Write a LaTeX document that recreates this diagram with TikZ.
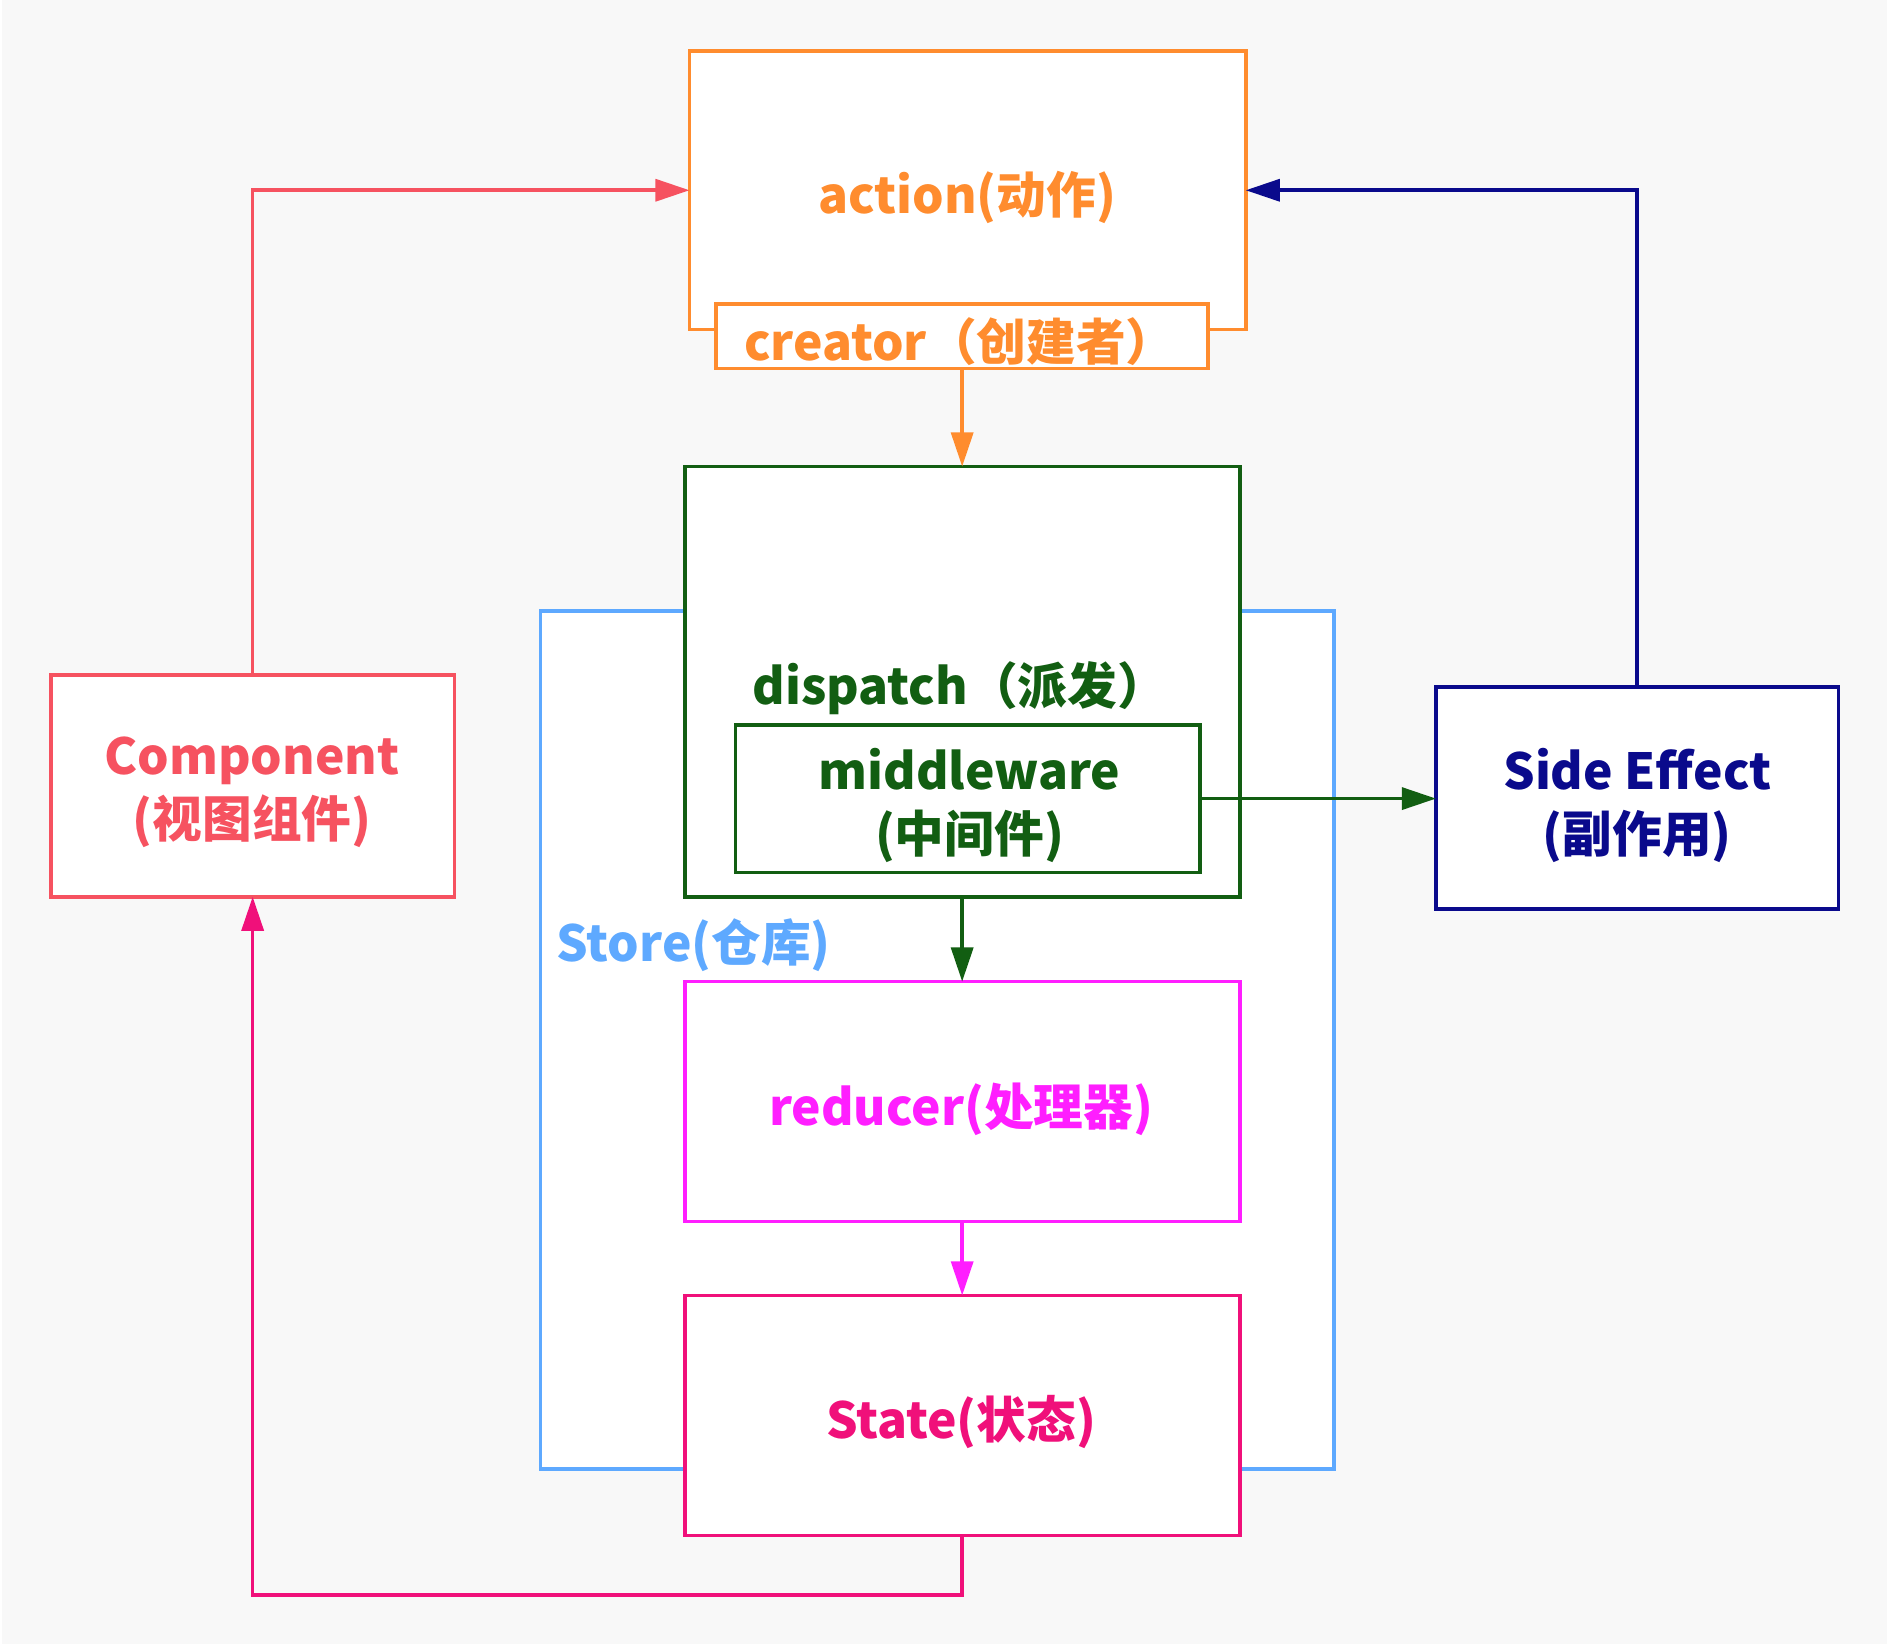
\documentclass[tikz,border=0pt]{standalone}
\usepackage{fontspec}
\setmainfont{Noto Sans CJK SC}
\usetikzlibrary{arrows.meta}
\definecolor{bgc}{HTML}{F8F8F8}
\definecolor{corange}{HTML}{FF8C2E}
\definecolor{cred}{HTML}{F65260}
\definecolor{cnavy}{HTML}{0A0A8C}
\definecolor{cgreen}{HTML}{125E12}
\definecolor{cblue}{HTML}{5EA9FF}
\definecolor{cmag}{HTML}{FF1EFF}
\definecolor{cpink}{HTML}{F0107A}
\tikzset{
  box/.style={draw, fill=white, line width=1.5pt, inner sep=0pt, outer sep=0pt, rectangle},
  lbl/.style={font=\fontsize{20.5}{26}\selectfont\bfseries, align=center, inner sep=0pt},
  conn/.style={line width=1.5pt, -{Triangle[length=14pt, width=9pt]}},
}
\begin{document}
\begin{tikzpicture}[x=0.5pt, y=-0.5pt]
\useasboundingbox (0,0) rectangle (1560,1350);
\fill[white] (0,0) rectangle (1560,1350);
\fill[bgc] (1.5,0) rectangle (1549,1350);

\begin{scope}[scale=0.995, every node/.append style={transform shape}]
% Store
\node[box, draw=cblue, minimum width=327.5pt, minimum height=354pt] (store) at (773.5,858) {};
\node[lbl, text=cblue, anchor=west] (storelbl) at (459,780) {Store(仓库)};

% action + creator
\node[box, draw=corange, minimum width=229.5pt, minimum height=115pt] (action) at (798.5,157) {};
\node[lbl, text=corange] (actionlbl) at (798,163) {action(动作)};
\node[box, draw=corange, minimum width=203pt, minimum height=26.5pt] (creator) at (794,277.5) {};
\node[lbl, text=corange] (creatorlbl) at (792,282) {creator（创建者）};

% dispatch + middleware
\node[box, draw=cgreen, minimum width=229pt, minimum height=177.5pt] (dispatch) at (794,562.5) {};
\node[lbl, text=cgreen] (dispatchlbl) at (792,568) {dispatch（派发）};
\node[box, draw=cgreen, minimum width=191.5pt, minimum height=61pt] (middleware) at (798.5,659) {};
\node[lbl, text=cgreen] (mwlbl) at (800,665) {middleware\\(中间件)};

% reducer, state
\node[box, draw=cmag, minimum width=229pt, minimum height=99pt] (reducer) at (794,909) {};
\node[lbl, text=cmag] (reducerlbl) at (793,915) {reducer(处理器)};
\node[box, draw=cpink, minimum width=229pt, minimum height=99pt] (state) at (794,1168) {};
\node[lbl, text=cpink] (statelbl) at (793,1173) {State(状态)};

% component, side effect
\node[box, draw=cred, minimum width=166.5pt, minimum height=91.5pt] (component) at (208.5,648.5) {};
\node[lbl, text=cred] (complbl) at (208,654) {Component\\(视图组件)};
\node[box, draw=cnavy, minimum width=166pt, minimum height=91.5pt] (side) at (1351,658.5) {};
\node[lbl, text=cnavy] (sidelbl) at (1351,665) {Side Effect\\(副作用)};

% connectors
\draw[conn, corange] (creator.south) -- (dispatch.north);
\draw[conn, cgreen] (dispatch.south) -- (reducer.north);
\draw[conn, cmag] (reducer.south) -- (state.north);
\draw[conn, cgreen] (middleware.east) -- (middleware.east -| side.west);
\draw[conn, cred] (component.north) |- (action.west);
\draw[conn, cnavy] (side.north) |- (action.east);
\draw[conn, cpink] (state.south) -- ++(0,49) -| (component.south);
\end{scope}
\end{tikzpicture}
\end{document}
